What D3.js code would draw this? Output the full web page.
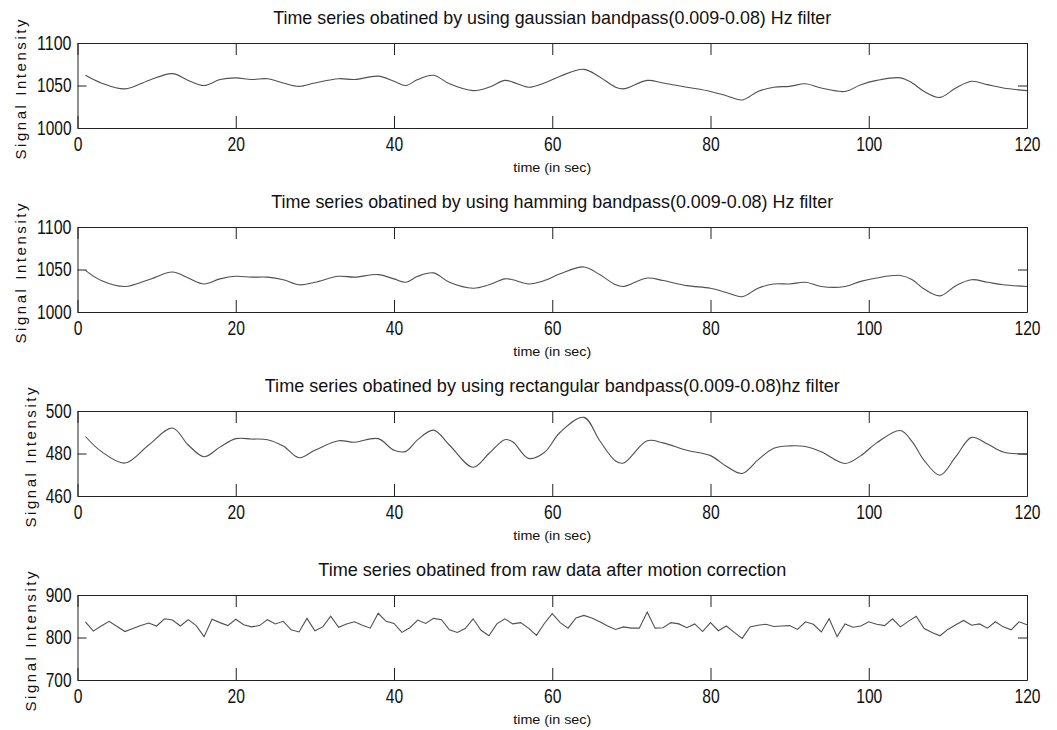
<!DOCTYPE html>
<html>
<head>
<meta charset="utf-8">
<script src="https://cdn.jsdelivr.net/npm/d3@7"></script>
<style>
  body { margin: 0; background: #fff; }
  svg text { font-family: "Liberation Sans", Arial, sans-serif; fill: #111; }
</style>
</head>
<body>
<div id="chart"></div>
<script>
// values
const xTicks = [0, 20, 40, 60, 80, 100, 120];

const titles = [
  "Time series obatined by using gaussian bandpass(0.009-0.08) Hz filter",
  "Time series obatined by using hamming bandpass(0.009-0.08) Hz filter",
  "Time series obatined by using rectangular bandpass(0.009-0.08)hz filter",
  "Time series obatined from raw data after motion correction"
];

const yTicksGauss = [1000, 1050, 1100];
const yTicksHamm = [1000, 1050, 1100];
const yTicksRect = [460, 480, 500];
const yTicksRaw = [700, 800, 900];

// knot times (s) for the three filtered series
const filtTime = [1, 3, 6, 9, 12, 14, 16, 18, 20, 22, 24, 26, 28, 30, 33, 35, 38, 40, 41.5, 43,
  45, 47, 50, 52, 54, 55, 57, 59, 61, 64, 66, 68, 69, 72, 74, 77, 80, 82, 84, 86,
  88, 90, 92, 94, 97, 99, 101, 104, 105.5, 107, 109, 111, 113, 115, 117, 120];

const gaussVals = [1062, 1053, 1046, 1056, 1064, 1056, 1050, 1057, 1059, 1057,
  1058, 1053, 1049, 1053, 1058, 1057, 1061, 1055, 1050, 1057,
  1062, 1052, 1044, 1048, 1056, 1054, 1048, 1053, 1061, 1069,
  1060, 1048, 1046, 1056, 1053, 1048, 1043, 1038, 1033, 1043,
  1048, 1049, 1052, 1047, 1043, 1051, 1056, 1059, 1053, 1043,
  1036, 1047, 1055, 1051, 1047, 1044];

const hammVals = [1049, 1037, 1030, 1038, 1047, 1040, 1033, 1039, 1042, 1041,
  1041, 1038, 1032, 1035, 1042, 1041, 1044, 1039, 1035, 1042,
  1046, 1035, 1028, 1032, 1039, 1038, 1033, 1037, 1045, 1053,
  1044, 1032, 1030, 1040, 1037, 1031, 1028, 1023, 1018, 1028,
  1033, 1033, 1035, 1030, 1030, 1036, 1040, 1043, 1038, 1027,
  1019, 1031, 1038, 1035, 1032, 1030];

const rectVals = [488, 481, 475.5, 484, 492, 484, 478.5, 483, 487, 486.8,
  486.5, 483.5, 478, 481.5, 486, 485.3, 487, 481.5, 481, 486.5,
  491, 484, 473.5, 480, 486.5, 485.5, 477.7, 480.5, 490, 497,
  486, 476.5, 475.5, 486, 485, 481.5, 479, 474, 470.6, 477,
  482.5, 483.6, 483.3, 480.8, 475.3, 479, 485, 490.8, 485.5, 476.8,
  469.8, 478.5, 487.6, 484.5, 480.7, 479.7];

// raw series, one sample per second from t = 1 s
const rawVals = [837, 815, 827, 838, 826, 814, 821, 828, 834, 827,
  844, 841, 827, 842, 828, 802, 843, 835, 828, 843,
  830, 825, 828, 842, 832, 838, 818, 813, 845, 816,
  825, 850, 824, 832, 837, 829, 822, 857, 838, 833,
  812, 823, 841, 833, 845, 842, 818, 812, 821, 844,
  817, 804, 832, 844, 832, 835, 822, 805, 833, 856,
  835, 822, 846, 852, 846, 837, 827, 819, 825, 822,
  822, 860, 822, 823, 835, 832, 823, 832, 814, 835,
  816, 827, 812, 798, 825, 829, 831, 826, 827, 828,
  819, 837, 831, 813, 844, 802, 832, 824, 827, 837,
  831, 828, 844, 825, 838, 850, 821, 812, 804, 819,
  830, 840, 829, 832, 822, 837, 825, 818, 837, 830];

const width = 1057, height = 730;
const left = 77.5, right = 1027, panelH = 85;
const panelTops = [43, 227, 411, 595];

const svg = d3.select('#chart').append('svg')
  .attr('width', width)
  .attr('height', height);

const x = d3.scaleLinear().domain([0, 120]).range([left, right]);

const panels = [
  { title: titles[0], ticks: yTicksGauss, time: filtTime, vals: gaussVals, smooth: true, labelX: 26 },
  { title: titles[1], ticks: yTicksHamm, time: filtTime, vals: hammVals, smooth: true, labelX: 26 },
  { title: titles[2], ticks: yTicksRect, time: filtTime, vals: rectVals, smooth: true, labelX: 36 },
  { title: titles[3], ticks: yTicksRaw, time: rawVals.map((v, i) => i + 1), vals: rawVals, smooth: false, labelX: 36 }
];

// squeeze tick labels to the narrow digits of the original
function fitText(sel, perChar) {
  sel.attr('textLength', function() { return this.textContent.length * perChar; })
    .attr('lengthAdjust', 'spacingAndGlyphs');
}

panels.forEach((p, k) => {
  const top = panelTops[k];
  const y = d3.scaleLinear()
    .domain([p.ticks[0], p.ticks[p.ticks.length - 1]])
    .range([top + panelH, top]);

  const g = svg.append('g');

  const line = d3.line()
    .x((d, i) => x(p.time[i]))
    .y(d => y(d))
    .curve(p.smooth ? d3.curveCatmullRom.alpha(0.5) : d3.curveLinear);

  g.append('path')
    .datum(p.vals)
    .attr('fill', 'none')
    .attr('stroke', '#505050')
    .attr('stroke-width', 1.1)
    .attr('d', line);

  // box with inward ticks on all four sides (matlab style)
  const bottom = g.append('g')
    .attr('transform', `translate(0,${top + panelH})`)
    .call(d3.axisBottom(x).tickValues(xTicks).tickSizeInner(-12).tickSizeOuter(0).tickPadding(9));
  bottom.selectAll('text').attr('font-size', 20);
  fitText(bottom.selectAll('text'), 8.7);

  g.append('g')
    .attr('transform', `translate(0,${top})`)
    .call(d3.axisTop(x).tickValues(xTicks).tickSizeInner(-12).tickSizeOuter(0).tickFormat(''));

  const leftAx = g.append('g')
    .attr('transform', `translate(${left},0)`)
    .call(d3.axisLeft(y).tickValues(p.ticks).tickSizeInner(-9).tickSizeOuter(0)
      .tickPadding(6).tickFormat(d3.format('d')));
  leftAx.selectAll('text').attr('font-size', 20);
  fitText(leftAx.selectAll('text'), 8.6);

  g.append('g')
    .attr('transform', `translate(${right},0)`)
    .call(d3.axisLeft(y).tickValues(p.ticks).tickSizeInner(9).tickSizeOuter(0).tickFormat(''));

  g.selectAll('.domain, .tick line').attr('stroke', '#222');
  g.selectAll('.tick text').attr('fill', '#111').attr('font-family', '"Liberation Sans", Arial, sans-serif');

  g.append('text')
    .attr('x', (left + right) / 2)
    .attr('y', top - 19)
    .attr('text-anchor', 'middle')
    .attr('font-size', 19)
    .attr('textLength', [558, 562, 575, 468][k])
    .attr('lengthAdjust', 'spacingAndGlyphs')
    .text(p.title);

  g.append('text')
    .attr('x', (left + right) / 2)
    .attr('y', top + panelH + 44)
    .attr('text-anchor', 'middle')
    .attr('font-size', 13)
    .attr('textLength', 78)
    .attr('lengthAdjust', 'spacingAndGlyphs')
    .text('time (in sec)');

  g.append('text')
    .attr('transform', `translate(${p.labelX},${top + panelH / 2 + 4}) rotate(-90)`)
    .attr('text-anchor', 'middle')
    .attr('font-size', 15)
    .attr('fill', '#333')
    .attr('textLength', 140)
    .attr('lengthAdjust', 'spacing')
    .text('Signal Intensity');
});
</script>
</body>
</html>
